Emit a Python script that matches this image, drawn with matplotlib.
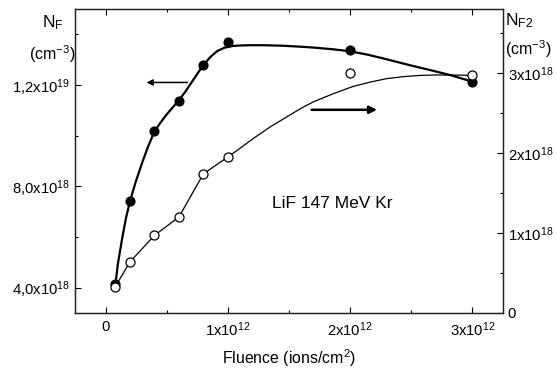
import matplotlib
matplotlib.use('Agg')
import matplotlib.pyplot as plt

plt.rcParams['font.family'] = ['Liberation Sans', 'DejaVu Sans']
plt.rcParams['mathtext.default'] = 'regular'

# measured points (fluence in 1e12 ions/cm2, N in 1e18 cm-3)
fluence = [0.08, 0.2, 0.4, 0.6, 0.8, 1.0, 2.0, 3.0]
nf = [4.15, 7.42, 10.17, 11.37, 12.79, 13.70, 13.38, 12.13]
nf2 = [0.33, 0.64, 0.97, 1.20, 1.74, 1.95, 3.00, 2.97]

# fitted curves
nf_fit_x = [0.08, 0.10, 0.134, 0.166, 0.2, 0.248, 0.297, 0.346, 0.4, 0.45, 0.5,
            0.55, 0.6, 0.65, 0.7, 0.75, 0.8, 0.86, 0.91, 0.97, 1.04, 1.1, 1.18,
            1.3, 1.45, 1.6, 1.72, 1.86, 2.0, 2.14, 2.27, 2.4, 2.54, 2.68, 2.82, 3.0]
nf_fit_y = [4.1, 4.92, 5.9, 6.73, 7.42, 8.2, 8.9, 9.55, 10.17, 10.52, 10.84,
            11.12, 11.4, 11.72, 12.08, 12.44, 12.79, 13.12, 13.33, 13.47, 13.54, 13.56, 13.57,
            13.57, 13.55, 13.51, 13.47, 13.41, 13.33, 13.2, 13.05, 12.89, 12.72, 12.56, 12.39, 12.13]
nf2_fit_x = [0.08, 0.2, 0.4, 0.6, 0.8, 1.0, 1.1, 1.207, 1.34, 1.48, 1.6, 1.70,
             1.86, 2.02, 2.16, 2.30, 2.44, 2.57, 2.70, 2.84, 3.0]
nf2_fit_y = [0.33, 0.64, 0.97, 1.20, 1.74, 1.95, 2.06, 2.18, 2.32, 2.45, 2.56, 2.64,
             2.74, 2.83, 2.885, 2.93, 2.955, 2.97, 2.975, 2.975, 2.97]

fig = plt.figure(figsize=(5.57, 3.71), dpi=100)
ax = fig.add_axes([75/557, 58/371, 428/557, 304/371])
ax2 = ax.twinx()

ax.plot(nf_fit_x, nf_fit_y, color='black', lw=1.6, zorder=2)
ax.plot(fluence, nf, 'o', color='black', ms=6.3, zorder=3)
ax2.plot(nf2_fit_x, nf2_fit_y, color='black', lw=0.9, zorder=2)
ax2.plot(fluence, nf2, 'o', mfc='white', mec='black', mew=0.9, ms=6.5, zorder=3)

ax.set_xlim(-0.25, 3.25)
ax.set_ylim(3.0, 15.0)
ax2.set_ylim(0, 3.8)

ax.set_xticks([0, 1, 2, 3])
ax.set_xticklabels(['0', '1x10$^{12}$', '2x10$^{12}$', '3x10$^{12}$'])
ax.set_xticks([0.5, 1.5, 2.5], minor=True)
ax.set_yticks([4, 8, 12])
ax.set_yticklabels(['4,0x10$^{18}$', '8,0x10$^{18}$', '1,2x10$^{19}$'])
ax.set_yticks([6, 10, 14], minor=True)
ax2.set_yticks([0, 1, 2, 3])
ax2.set_yticklabels(['0', '1x10$^{18}$', '2x10$^{18}$', '3x10$^{18}$'])
ax2.set_yticks([0.5, 1.5, 2.5, 3.5], minor=True)

for a in (ax, ax2):
    for s in a.spines.values():
        s.set_linewidth(0.9)
        s.set_color('#222222')
ax.tick_params(which='both', direction='in', top=True, right=False, labelsize=10.7, width=0.8)
ax.tick_params(which='major', length=4.5)
ax.tick_params(which='minor', length=2.5)
ax.tick_params(axis='x', pad=5)
ax2.tick_params(which='both', direction='in', labelsize=10.7, width=0.8)
ax2.tick_params(which='major', length=4.5)
ax2.tick_params(which='minor', length=2.5)

ax.set_xlabel('Fluence (ions/cm$^2$)', fontsize=11.4, labelpad=6)

ax.annotate('', xy=(0.335, 12.1), xytext=(0.67, 12.1),
            arrowprops=dict(arrowstyle='-|>', color='black', lw=1.1,
                            mutation_scale=9, shrinkA=0, shrinkB=0))
ax2.annotate('', xy=(2.22, 2.54), xytext=(1.685, 2.54),
             arrowprops=dict(arrowstyle='-|>', color='black', lw=1.8,
                             mutation_scale=11, shrinkA=0, shrinkB=0))

ax.text(1.85, 7.31, 'LiF 147 MeV Kr', fontsize=12.5, ha='center', va='center')

fig.text(53/557, 1 - 23/371, 'N$_F$', fontsize=12.5, ha='center', va='center')
fig.text(52/557, 1 - 54/371, '(cm$^{-3}$)', fontsize=11.5, ha='center', va='center')
fig.text(505/557, 1 - 21/371, 'N$_{F2}$', fontsize=12.5, ha='left', va='center')
fig.text(505/557, 1 - 49/371, '(cm$^{-3}$)', fontsize=11.5, ha='left', va='center')

fig.savefig('out.png', dpi=100)
